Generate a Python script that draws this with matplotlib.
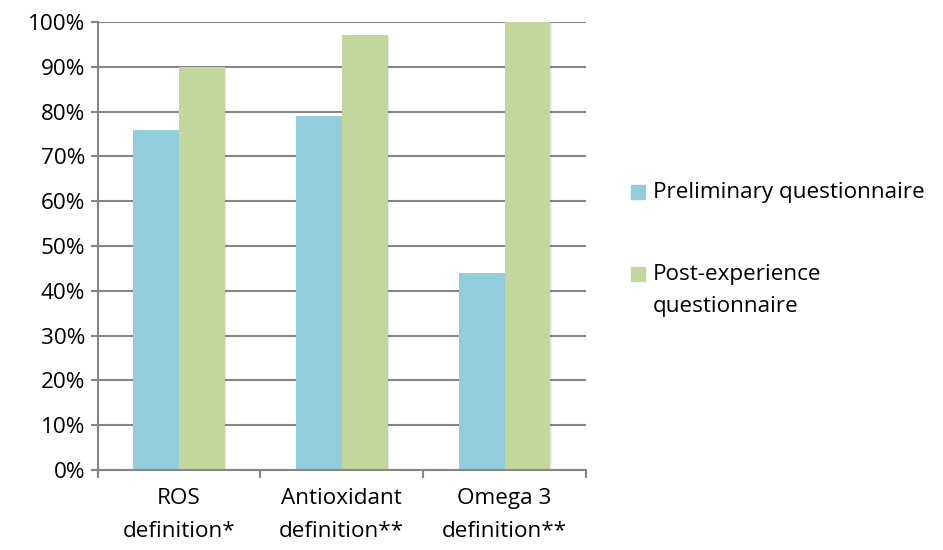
import matplotlib.pyplot as plt
import matplotlib.patheffects as pe
from matplotlib.patches import Rectangle
import numpy as np

categories = ["ROS\ndefinition*", "Antioxidant\ndefinition**", "Omega 3\ndefinition**"]
preliminary = [76, 79, 44]
post_experience = [90, 97, 100]
series_labels = ["Preliminary questionnaire", "Post-experience\nquestionnaire"]
colors = ["#93CDDD", "#C3D69B"]

plt.rcParams['font.family'] = ['Open Sans', 'DejaVu Sans']
FS = 16.2

fig = plt.figure(figsize=(9.43, 5.5), dpi=100)
ax = fig.add_axes([0.1034, 0.1455, 0.518, 0.8145])

x = np.arange(len(categories))
w = 0.282
shadow = [pe.SimplePatchShadow(offset=(1, -1), alpha=0.1), pe.Normal()]
b1 = ax.bar(x - w / 2, preliminary, w, color=colors[0], zorder=2)
b2 = ax.bar(x + w / 2, post_experience, w, color=colors[1], zorder=2)
for bar in list(b1) + list(b2):
    bar.set_path_effects(shadow)

ax.set_xlim(-0.5, 2.5)
ax.set_ylim(0, 100)
ax.set_yticks(np.arange(0, 101, 10))
ax.set_yticklabels([f"{v}%" for v in range(0, 101, 10)], fontsize=FS)
ax.yaxis.grid(True, color="#868686", linewidth=1.5)
ax.set_axisbelow(True)

ax.set_xticks([-0.5, 0.5, 1.5, 2.5])
ax.set_xticklabels([])
ax.set_xticks(x, minor=True)
ax.set_xticklabels(categories, minor=True, fontsize=FS, linespacing=1.75)
ax.tick_params(axis="x", which="minor", length=0, pad=13)
ax.tick_params(axis="x", which="major", length=6, width=1.5, color="#868686")
ax.tick_params(axis="y", length=5, width=1.5, color="#868686", pad=4)

for s in ["top", "right"]:
    ax.spines[s].set_visible(False)
for s in ["left", "bottom"]:
    ax.spines[s].set_color("#868686")
    ax.spines[s].set_linewidth(1.5)

# legend drawn by hand so the square sits on the first text line
legend_baseline = [198, 280]
line_gap = 32
for lbl, col, yb in zip(series_labels, colors, legend_baseline):
    fig.patches.append(Rectangle((631 / 943, 1 - (yb + 1) / 550), 14 / 943, 14 / 550,
                                 transform=fig.transFigure, color=col))
    for i, line in enumerate(lbl.split("\n")):
        fig.text(653 / 943, 1 - (yb + i * line_gap) / 550, line, fontsize=FS,
                 va="baseline", ha="left")

fig.savefig("out.png", dpi=100)
